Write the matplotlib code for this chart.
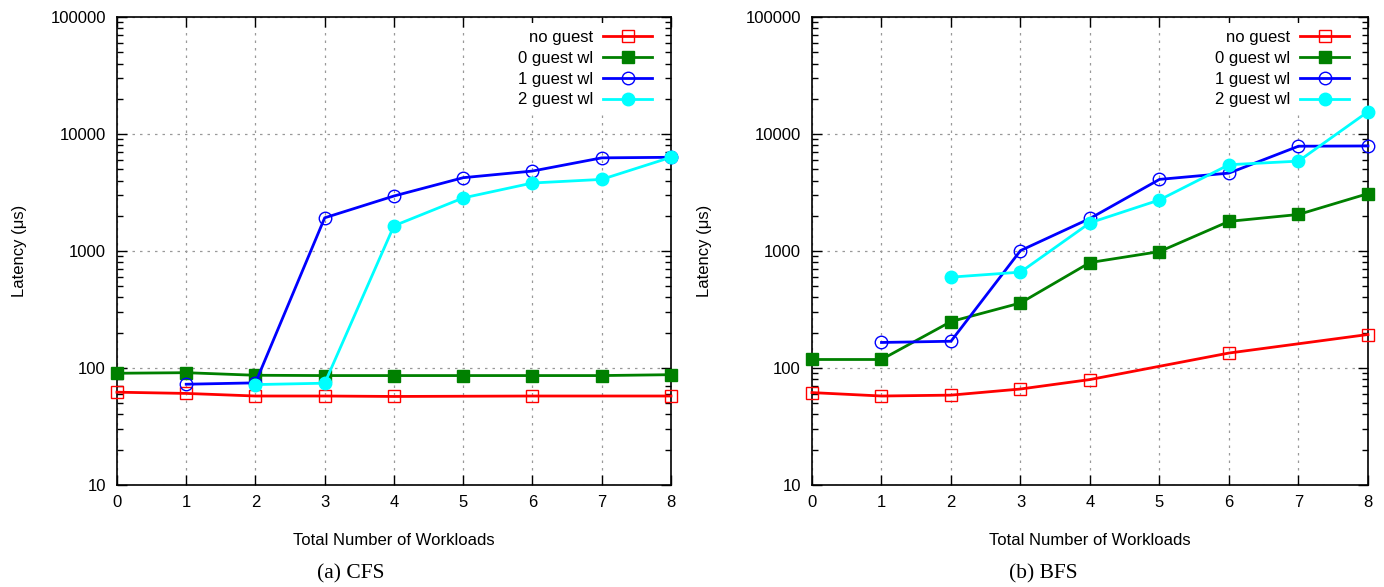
import numpy as np
import matplotlib
matplotlib.use('Agg')
import matplotlib.pyplot as plt
from matplotlib.ticker import LogLocator, NullFormatter, FixedLocator

plt.rcParams['font.family'] = ['Liberation Sans', 'DejaVu Sans']

# ---- data ----
x_all = [0, 1, 2, 3, 4, 5, 6, 7, 8]
x_noguest = [0, 1, 2, 3, 4, 6, 8]

# CFS
cfs_noguest = [62, 60.5, 57.5, 57.5, 57, 57.5, 57.5]
cfs_g0 = [90, 91, 86.5, 86, 86, 86, 86, 86, 87.5]
x_cfs_g1 = [1, 2, 3, 4, 5, 6, 7, 8]
cfs_g1 = [72.5, 74.5, 1920, 2950, 4230, 4820, 6250, 6320]
x_cfs_g2 = [2, 3, 4, 5, 6, 7, 8]
cfs_g2 = [72, 74, 1640, 2840, 3810, 4090, 6320]

# BFS
bfs_noguest = [61.5, 57.5, 58.5, 66, 79.5, 134, 193]
bfs_g0 = [118, 118, 249, 359, 796, 987, 1790, 2050, 3090]
x_bfs_g1 = [1, 2, 3, 4, 5, 6, 7, 8]
bfs_g1 = [165, 169, 1007, 1895, 4090, 4630, 7860, 7900]
x_bfs_g2 = [2, 3, 4, 5, 6, 7, 8]
bfs_g2 = [597, 659, 1740, 2730, 5460, 5860, 15500]

labels = ['no guest', '0 guest wl', '1 guest wl', '2 guest wl']
FS = 12


def draw(ax, noguest, g0, xg1, g1, xg2, g2):
    ax.plot(x_noguest, noguest, '-', color='#ff0000', lw=2, marker='s', ms=9,
            mfc='none', mec='#ff0000', mew=1.0, label=labels[0], clip_on=False, zorder=3)
    ax.plot(x_all, g0, '-', color='#008000', lw=2, marker='s', ms=9,
            mfc='#008000', mec='#008000', label=labels[1], clip_on=False, zorder=3)
    ax.plot(xg1, g1, '-', color='#0000ff', lw=2, marker='o', ms=9,
            mfc='none', mec='#0000ff', mew=1.0, label=labels[2], clip_on=False, zorder=4)
    ax.plot(xg2, g2, '-', color='#00ffff', lw=2, marker='o', ms=9,
            mfc='#00ffff', mec='#00ffff', label=labels[3], clip_on=False, zorder=4)

    ax.set_yscale('log')
    ax.set_ylim(10, 100000)
    ax.set_xlim(0, 8)
    ax.xaxis.set_major_locator(FixedLocator(x_all))
    ax.yaxis.set_minor_locator(LogLocator(base=10, subs=np.arange(2, 10), numticks=20))
    ax.yaxis.set_minor_formatter(NullFormatter())
    ax.set_yticks([10, 100, 1000, 10000, 100000])
    ax.set_yticklabels(['10', '100', '1000', '10000', '100000'])
    ax.tick_params(which='both', direction='in', top=True, right=True, labelsize=FS)
    ax.tick_params(which='major', length=7, width=1)
    ax.tick_params(which='minor', length=4, width=1)
    ax.tick_params(axis='x', pad=7)
    ax.tick_params(axis='y', pad=8)
    ax.grid(True, which='major', ls=(0, (2, 4)), color='#999999', lw=0.9)
    for sp in ax.spines.values():
        sp.set_linewidth(1.2)
    ax.set_xlabel('Total Number of Workloads', fontsize=FS)
    ax.xaxis.set_label_coords(0.5, -0.102)
    ax.set_ylabel('Latency (\u03bcs)', fontsize=FS)
    ax.yaxis.set_label_coords(-0.163, 0.5)
    leg = ax.legend(loc='upper right', frameon=True, markerfirst=False, fontsize=FS,
                    handlelength=2.95, handletextpad=0.6, labelspacing=0.35,
                    borderaxespad=0.55, bbox_to_anchor=(0.9946, 1.0064),
                    facecolor='white', edgecolor='none', framealpha=1.0, fancybox=False)
    leg.set_zorder(5)


fig = plt.figure(figsize=(13.84, 5.87), dpi=100)
ax1 = fig.add_axes([0.0845, 0.174, 0.4003, 0.797])
ax2 = fig.add_axes([0.5867, 0.174, 0.4017, 0.797])

draw(ax1, cfs_noguest, cfs_g0, x_cfs_g1, cfs_g1, x_cfs_g2, cfs_g2)
draw(ax2, bfs_noguest, bfs_g0, x_bfs_g1, bfs_g1, x_bfs_g2, bfs_g2)
ax2.yaxis.set_label_coords(-0.18, 0.5)

serif = ['Liberation Serif', 'DejaVu Serif']
fig.text(351 / 1384, 1 - 574 / 587, '(a) CFS', ha='center', va='center',
         fontsize=15.5, family=serif)
fig.text(1043 / 1384, 1 - 574 / 587, '(b) BFS', ha='center', va='center',
         fontsize=15.5, family=serif)

fig.savefig('out.png', dpi=100)
